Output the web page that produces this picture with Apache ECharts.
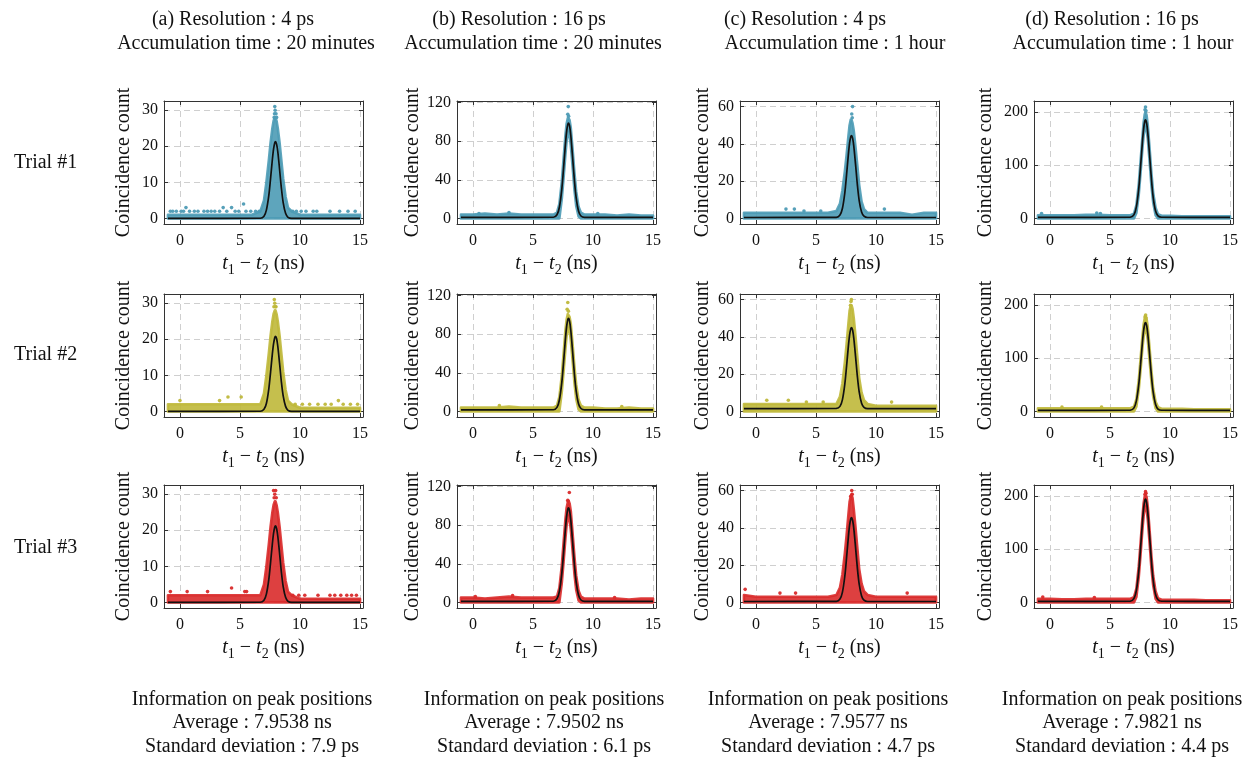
<!DOCTYPE html>
<html><head><meta charset="utf-8">
<script src="https://cdn.jsdelivr.net/npm/echarts@6/dist/echarts.min.js"></script>
<style>html,body{margin:0;padding:0;background:#fff}#c{width:1244px;height:760px}</style>
</head><body><div id="c"></div><script>
// ---------- data ----------
const xTicks = [0, 5, 10, 15];
const yTicks_a = [0, 10, 20, 30];
const yTicks_b = [0, 40, 80, 120];
const yTicks_c = [0, 20, 40, 60];
const yTicks_d = [0, 100, 200];

const fitX = [-1, 6.7, 7.0, 7.2, 7.4, 7.55, 7.7, 7.8, 7.9, 7.96, 8.05, 8.15, 8.3, 8.45, 8.6, 8.8, 9.0, 9.3, 15];
const cloudX = [-1, 0, 1, 2, 3, 4, 5, 6, 6.7, 7.0, 7.2, 7.4, 7.55, 7.7, 7.8, 7.9, 7.96, 8.05, 8.15, 8.3, 8.45, 8.6, 8.8, 9.0, 9.3, 10, 11, 12, 13, 14, 15];

// (a) 4 ps, 20 min
const fit_a1 = [0, 0.05, 0.6, 2.3, 6.3, 11.1, 16.4, 19.3, 21.0, 21.3, 20.6, 18.5, 13.6, 8.4, 4.4, 1.4, 0.3, 0.02, 0];
const fit_a2 = [0, 0.05, 0.6, 2.2, 6.2, 10.9, 16.0, 18.8, 20.5, 20.8, 20.2, 18.1, 13.3, 8.2, 4.3, 1.4, 0.3, 0.02, 0];
const fit_a3 = [0, 0.05, 0.6, 2.3, 6.3, 11.1, 16.3, 19.2, 20.9, 21.2, 20.5, 18.4, 13.6, 8.4, 4.4, 1.4, 0.3, 0.02, 0];
const up_a1 = [1,1,1,1,1,1,1,1, 2,5,10,16,21,25,27,28,28,27,25,21,16,11,6,3,2, 1,1,1,1,1,1];
const lo_a1 = [0,0,0,0,0,0,0,0, 0,0,0,0,0,0,0,0,0,0,0,0,0,0,0,0,0, 0,0,0,0,0,0];
const up_a2 = [2,2,2,2,2,2,2,2, 2,5,10,16,21,25,27,28,28,27,25,21,16,11,6,3,2, 1,1,1,1,1,1];
const lo_a2 = [0,0,0,0,0,0,0,0, 0,0,0,0,0,0,0,0,0,0,0,0,0,0,0,0,0, 0,0,0,0,0,0];
const up_a3 = [2,2,2,2,2,2,2,2, 2,5,10,16,21,25,27,28,28,27,25,21,16,11,6,3,2, 1,1,1,1,1,1];
const lo_a3 = [0,0,0,0,0,0,0,0, 0,0,0,0,0,0,0,0,0,0,0,0,0,0,0,0,0, 0,0,0,0,0,0];
const dots_a1 = [[-0.8,2],[-0.6,2],[-0.3,2],[0.1,2],[0.3,2],[0.5,3],[0.8,2],[1.2,2],[1.5,2],[2.0,2],[2.3,2],[2.6,2],[2.9,2],[3.3,2],[3.6,3],[3.9,2],[4.3,3],[4.6,2],[4.9,2],[5.3,4],[5.5,2],[5.9,2],[6.3,2],[6.6,2],[9.4,2],[9.7,2],[10.1,2],[10.5,2],[11.1,2],[11.4,2],[12.5,2],[13.3,2],[14.0,2],[14.6,2],[7.9,31],[7.93,30],[7.88,29],[8.0,29],[7.85,28],[8.05,28]];
const dots_a2 = [[0,3],[3.3,3],[4.0,4],[5.1,4],[13.2,3],[9.6,2],[10.2,2],[10.8,2],[11.5,2],[12.1,2],[12.6,2],[13.6,2],[14.2,2],[14.8,2],[7.86,31],[7.9,30],[7.83,29],[7.95,29],[8.0,29]];
const dots_a3 = [[-0.8,3],[0.6,3],[2.3,3],[4.3,4],[5.4,3],[5.55,3],[9.4,2],[9.9,2],[10.4,2],[11.5,2],[12.5,2],[12.9,2],[13.4,2],[13.9,2],[14.3,2],[14.7,2],[7.8,31],[7.97,31],[7.9,30],[7.85,29],[8.02,29]];

// (b) 16 ps, 20 min
const fit_b1 = [1, 1.2, 3.8, 11.6, 30.2, 52.3, 76.5, 89.8, 97.6, 99, 96, 86.3, 63.7, 39.8, 21.2, 7.4, 2.5, 1.1, 1];
const fit_b2 = [1.5, 1.7, 4.2, 11.8, 29.8, 51.2, 74.7, 87.6, 95.2, 96.5, 93.6, 84.2, 62.3, 39.1, 21.1, 7.7, 3.0, 1.6, 1.5];
const fit_b3 = [1, 1.2, 3.8, 11.5, 29.9, 51.7, 75.7, 88.9, 96.6, 98, 95, 85.4, 63.1, 39.4, 21, 7.4, 2.5, 1.1, 1];
const up_b1 = [4,4,5,4,5,4,4,4, 4,6,15,38,62,86,98,104,104,102,94,72,48,28,12,6,4, 4,4,3,4,3,3];
const lo_b1 = [0,0,0,0,0,0,0,0, 0,0,0,20,42,66,80,88,90,86,76,54,30,13,2,0,0, 0,0,0,0,0,0];
const up_b2 = [4,4,4,4,5,4,4,4, 4,6,15,37,60,84,95,101,100,98,91,70,47,28,12,6,4, 4,3,3,4,3,3];
const lo_b2 = [0,0,0,0,0,0,0,0, 0,0,0,20,41,64,78,85,87,84,74,53,30,13,2,0,0, 0,0,0,0,0,0];
const up_b3 = [5,5,4,5,6,5,5,5, 5,6,15,38,62,86,98,104,104,103,95,72,48,28,12,6,4, 4,4,4,3,4,4];
const lo_b3 = [0,0,0,0,0,0,0,0, 0,0,0,20,42,66,80,88,90,86,76,54,30,13,2,0,0, 0,0,0,0,0,0];
const dots_b1 = [[7.94,116],[7.9,108],[7.97,106],[3.0,6],[0.5,5],[10.4,5]];
const dots_b2 = [[7.9,113],[7.85,106],[7.95,104],[2.2,6],[12.4,5]];
const dots_b3 = [[8.03,114],[7.9,106],[7.95,105],[3.3,7],[0.2,6],[11.8,5]];

// (c) 4 ps, 1 hour
const fit_c1 = [0.5, 0.6, 1.8, 5.3, 13.6, 23.5, 34.4, 40.4, 43.9, 44.5, 43.1, 38.8, 28.7, 17.9, 9.6, 3.4, 1.2, 0.5, 0.5];
const fit_c2 = [1.5, 1.6, 2.7, 6.2, 14.5, 24.3, 35, 40.9, 44.4, 45, 43.7, 39.3, 29.3, 18.7, 10.5, 4.4, 2.2, 1.5, 1.5];
const fit_c3 = [0.5, 0.6, 1.8, 5.4, 13.9, 24, 35.2, 41.3, 44.9, 45.5, 44.1, 39.7, 29.3, 18.3, 9.8, 3.5, 1.2, 0.5, 0.5];
const up_c1 = [3,3,3,3,3,3,3,3, 4,8,15,25,34,44,50,53,53,51,47,38,28,18,9,5,3, 3,3,3,2,3,3];
const lo_c1 = [0,0,0,0,0,0,0,0, 0,0,0,0,0,0,0,0,0,0,0,0,0,0,0,0,0, 0,0,0,0,0,0];
const up_c2 = [4,4,4,4,4,4,4,4, 4,8,15,26,36,47,54,57,57,55,50,40,29,18,10,6,4, 3,3,3,3,3,3];
const lo_c2 = [0,0,0,0,0,0,0,0, 0,0,0,0,0,0,0,0,0,0,0,0,0,0,0,0,0, 0,0,0,0,0,0];
const up_c3 = [4,3,3,3,3,3,3,3, 4,8,15,26,36,47,54,57,58,56,50,40,29,18,10,6,4, 3,3,3,3,3,3];
const lo_c3 = [0,0,0,0,0,0,0,0, 0,0,0,0,0,0,0,0,0,0,0,0,0,0,0,0,0, 0,0,0,0,0,0];
const dots_c1 = [[8.05,60],[7.98,56],[8.02,54],[2.5,5],[3.2,5],[5.4,4],[10.7,5],[4.0,4]];
const dots_c2 = [[7.95,60],[7.92,59],[7.88,57],[0.9,6],[2.7,6],[4.2,5],[5.6,5],[11.3,5]];
const dots_c3 = [[-0.9,7],[3.3,5],[2.0,5],[7.98,60],[8.02,58],[7.9,57],[12.6,5]];

// (d) 16 ps, 1 hour
const fit_d1 = [2, 2.4, 7.2, 21.8, 56.5, 97.7, 142.9, 167.8, 182.4, 185, 179.3, 161.2, 119.1, 74.5, 39.7, 14, 4.8, 2.2, 2];
const fit_d2 = [2, 2.4, 6.7, 19.8, 51.2, 88.3, 129, 151.5, 164.7, 167, 161.9, 145.6, 107.6, 67.3, 36, 12.8, 4.5, 2.2, 2];
const fit_d3 = [2, 2.4, 7.5, 22.7, 59.2, 102.4, 149.8, 176, 191.3, 194, 188, 169, 124.9, 78, 41.6, 14.6, 5, 2.2, 2];
const up_d1 = [6,6,6,6,7,7,6,6, 6,9,25,65,108,152,180,196,200,194,175,132,86,48,20,8,5, 5,4,4,4,4,4];
const lo_d1 = [0,0,0,0,0,0,0,0, 0,0,10,45,86,130,155,170,172,166,150,108,62,30,6,0,0, 0,0,0,0,0,0];
const up_d2 = [6,6,6,6,6,6,6,6, 6,9,23,59,99,140,163,176,179,174,158,119,77,43,18,8,5, 5,5,4,4,4,4];
const lo_d2 = [0,0,0,0,0,0,0,0, 0,0,9,41,78,118,140,153,155,150,134,96,57,28,6,0,0, 0,0,0,0,0,0];
const up_d3 = [7,7,6,6,7,7,7,7, 7,10,26,68,112,158,186,200,203,198,180,136,88,50,21,8,5, 5,5,5,4,4,4];
const lo_d3 = [0,0,0,0,0,0,0,0, 0,0,10,48,90,136,162,178,180,175,156,112,65,32,7,0,0, 0,0,0,0,0,0];
const dots_d1 = [[7.96,209],[7.92,204],[8.0,202],[-0.7,9],[3.9,10],[4.2,9]];
const dots_d2 = [[7.93,178],[7.97,181],[8.0,176],[1.0,8],[4.3,8]];
const dots_d3 = [[7.96,208],[8.0,205],[7.92,203],[-0.6,10],[3.7,9]];

const titles1 = ['(a) Resolution : 4 ps', '(b) Resolution : 16 ps', '(c) Resolution : 4 ps', '(d) Resolution : 16 ps'];
const titles2 = ['Accumulation time : 20 minutes', 'Accumulation time : 20 minutes', 'Accumulation time : 1 hour', 'Accumulation time : 1 hour'];
const trialLabels = ['Trial #1', 'Trial #2', 'Trial #3'];
const infoAvg = ['Average : 7.9538 ns', 'Average : 7.9502 ns', 'Average : 7.9577 ns', 'Average : 7.9821 ns'];
const infoStd = ['Standard deviation : 7.9 ps', 'Standard deviation : 6.1 ps', 'Standard deviation : 4.7 ps', 'Standard deviation : 4.4 ps'];

// ---------- layout / style ----------
const F = '"Liberation Serif", "DejaVu Serif", serif';
const rowColors = ['#4d9bb5', '#bfb83a', '#d92b2b'];
const colLeft = [164, 457, 740, 1034];
const rowTop = [101, 294, 485];
const PW = 199, PH = 123;
const xRange = [-1.33, 15.25];
const yRanges = [[-1.55, 32.55], [-5.8, 121.8], [-3, 63], [-10.5, 220.5]];
const yTickSets = [yTicks_a, yTicks_b, yTicks_c, yTicks_d];
const yNameGap = [30, 34, 27, 38];
const titleC1 = [233, 519, 805, 1112];
const titleC2 = [246, 533, 835, 1123];
const infoC = [252, 544, 828, 1122];

const panelData = {
  a: [[fit_a1, up_a1, lo_a1, dots_a1], [fit_a2, up_a2, lo_a2, dots_a2], [fit_a3, up_a3, lo_a3, dots_a3]],
  b: [[fit_b1, up_b1, lo_b1, dots_b1], [fit_b2, up_b2, lo_b2, dots_b2], [fit_b3, up_b3, lo_b3, dots_b3]],
  c: [[fit_c1, up_c1, lo_c1, dots_c1], [fit_c2, up_c2, lo_c2, dots_c2], [fit_c3, up_c3, lo_c3, dots_c3]],
  d: [[fit_d1, up_d1, lo_d1, dots_d1], [fit_d2, up_d2, lo_d2, dots_d2], [fit_d3, up_d3, lo_d3, dots_d3]]
};
const colKeys = ['a', 'b', 'c', 'd'];

const grids = [], xAxes = [], yAxes = [], series = [];
const axisColor = '#333';
const splitStyle = { show: true, lineStyle: { color: '#c9c9c9', type: [6, 4], width: 0.9 } };
let gi = 0;
for (let r = 0; r < 3; r++) {
  for (let c = 0; c < 4; c++) {
    const [fit, up, lo, dots] = panelData[colKeys[c]][r];
    const color = rowColors[r];
    grids.push({ left: colLeft[c], top: rowTop[r], width: PW, height: PH });
    const yT = yTickSets[c];
    xAxes.push({
      gridIndex: gi, type: 'value', position: 'bottom', min: xRange[0], max: xRange[1],
      axisLine: { show: true, onZero: false, lineStyle: { color: axisColor, width: 1 } },
      axisTick: { show: true, inside: true, length: 4, customValues: xTicks, lineStyle: { color: axisColor } },
      axisLabel: { customValues: xTicks, fontFamily: F, fontSize: 16, color: '#111', margin: 9 },
      splitLine: splitStyle,
      name: '{i|t}{s|1}{m| \u2212 }{i|t}{s|2}{m| (ns)}', nameLocation: 'middle', nameGap: 27,
      nameTextStyle: { fontFamily: F, fontSize: 20, color: '#111', rich: {
        i: { fontFamily: F, fontStyle: 'italic', fontSize: 20, lineHeight: 26, verticalAlign: 'middle', color: '#111' },
        s: { fontFamily: F, fontSize: 14, lineHeight: 14, verticalAlign: 'bottom', color: '#111' },
        m: { fontFamily: F, fontSize: 20, lineHeight: 26, verticalAlign: 'middle', color: '#111' } } }
    });
    xAxes.push({
      gridIndex: gi, type: 'value', position: 'top', min: xRange[0], max: xRange[1],
      axisLine: { show: true, onZero: false, lineStyle: { color: axisColor, width: 1 } },
      axisTick: { show: true, inside: true, length: 4, customValues: xTicks, lineStyle: { color: axisColor } },
      axisLabel: { show: false }, splitLine: { show: false }
    });
    yAxes.push({
      gridIndex: gi, type: 'value', position: 'left', min: yRanges[c][0], max: yRanges[c][1],
      axisLine: { show: true, onZero: false, lineStyle: { color: axisColor, width: 1 } },
      axisTick: { show: true, inside: true, length: 4, customValues: yT, lineStyle: { color: axisColor } },
      axisLabel: { customValues: yT, fontFamily: F, fontSize: 16, color: '#111', margin: 6 },
      splitLine: splitStyle,
      name: 'Coincidence count', nameLocation: 'middle', nameRotate: 90, nameGap: yNameGap[c],
      nameTextStyle: { fontFamily: F, fontSize: 20, color: '#111' }
    });
    yAxes.push({
      gridIndex: gi, type: 'value', position: 'right', min: yRanges[c][0], max: yRanges[c][1],
      axisLine: { show: true, onZero: false, lineStyle: { color: axisColor, width: 1 } },
      axisTick: { show: true, inside: true, length: 4, customValues: yT, lineStyle: { color: axisColor } },
      axisLabel: { show: false }, splitLine: { show: false }
    });
    const xi = gi * 2, yi = gi * 2;
    // point cloud band (envelope of the dense data points)
    series.push({
      type: 'custom', xAxisIndex: xi, yAxisIndex: yi, clip: true, z: 2, silent: true,
      data: [[7.95, 0]],
      renderItem: (params, api) => {
        const pts = [];
        for (let k = 0; k < cloudX.length; k++) pts.push(api.coord([cloudX[k], up[k]]));
        for (let k = cloudX.length - 1; k >= 0; k--) pts.push(api.coord([cloudX[k], lo[k]]));
        return { type: 'polygon', shape: { points: pts },
          style: { fill: color, stroke: color, lineWidth: 2.6, lineJoin: 'round', opacity: 0.9 } };
      }
    });
    // sparse individual points
    series.push({
      type: 'scatter', xAxisIndex: xi, yAxisIndex: yi, z: 3, silent: true,
      symbolSize: 3.6, itemStyle: { color: color, opacity: 0.95 }, data: dots
    });
    // Gaussian fit
    series.push({
      type: 'line', xAxisIndex: xi, yAxisIndex: yi, z: 4, silent: true,
      symbol: 'none', smooth: 0.3, lineStyle: { color: '#111', width: 1.7 },
      data: fitX.map((x, k) => [x, fit[k]])
    });
    gi++;
  }
}

const graphics = [];
const txt = (text, x, y, align) => ({ type: 'text', x: x, y: y, silent: true,
  style: { text: text, fontFamily: F, fontSize: 20, fill: '#111', align: align || 'center', verticalAlign: 'middle' } });
for (let c = 0; c < 4; c++) {
  graphics.push(txt(titles1[c], titleC1[c], 20));
  graphics.push(txt(titles2[c], titleC2[c], 44));
  graphics.push(txt('Information on peak positions', infoC[c], 700));
  graphics.push(txt(infoAvg[c], infoC[c], 723));
  graphics.push(txt(infoStd[c], infoC[c], 747));
}
const trialY = [163, 355, 548];
for (let r = 0; r < 3; r++) graphics.push(txt(trialLabels[r], 14, trialY[r], 'left'));

const chart = echarts.init(document.getElementById('c'), null, { renderer: 'canvas' });
chart.setOption({
  animation: false,
  backgroundColor: '#fff',
  grid: grids, xAxis: xAxes, yAxis: yAxes, series: series,
  graphic: graphics
});
</script></body></html>
